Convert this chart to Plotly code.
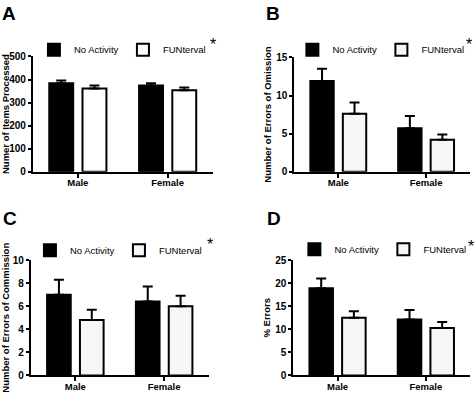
import plotly.graph_objects as go

categories = ["Male", "Female"]
series_names = ["No Activity", "FUNterval"]

items_no = [384, 374]
items_no_err = [12, 10]
items_fun = [361, 353]
items_fun_err = [13, 12]

omis_no = [11.9, 5.7]
omis_no_err = [1.6, 1.6]
omis_fun = [7.6, 4.2]
omis_fun_err = [1.5, 0.7]

comm_no = [7.0, 6.4]
comm_no_err = [1.3, 1.3]
comm_fun = [4.8, 6.0]
comm_fun_err = [0.9, 0.9]

pct_no = [18.9, 12.1]
pct_no_err = [2.1, 2.1]
pct_fun = [12.5, 10.3]
pct_fun_err = [1.4, 1.3]

y_titles = ["Numer of Items Processed", "Number of Errors of Omission",
            "Number of Errors of Commission", "% Errors"]
y_max = [500, 15, 10, 25]
y_dtick = [100, 5, 2, 5]
panel_letters = ["A", "B", "C", "D"]

panels = [
    (items_no, items_no_err, items_fun, items_fun_err),
    (omis_no, omis_no_err, omis_fun, omis_fun_err),
    (comm_no, comm_no_err, comm_fun, comm_fun_err),
    (pct_no, pct_no_err, pct_fun, pct_fun_err),
]

W, H = 474, 395
FONT = "Liberation Sans, Arial, sans-serif"

# pixel geometry: (x_left, x_right, y_top, y_bottom)
geom = [(32, 212, 52, 171), (294, 470, 53, 171), (30, 208, 262, 381), (293, 470, 262, 381)]
legend_pos = [(52, 45), (311, 45), (48, 252), (313, 251)]
star_pos = [(212, 40), (469, 40), (209, 246), (471, 248)]
letter_pos = [(8, 13), (273, 13), (9, 219), (274, 219)]
letter_shift = [5, 5, 0, 0]
white_fill = ["#ffffff", "#f6f6f6", "#f6f6f6", "#f6f6f6"]

fig = go.Figure()
layout = dict(
    width=W, height=H, margin=dict(l=0, r=0, t=0, b=0),
    paper_bgcolor="white", plot_bgcolor="white",
    barmode="group", bargap=0.26, bargroupgap=0.28,
    font=dict(family=FONT, color="black"),
)
annotations = []

for i, (no, no_err, fun, fun_err) in enumerate(panels):
    n = "" if i == 0 else str(i + 1)
    leg = "legend" if i == 0 else "legend" + str(i + 1)
    x0, x1, yt, yb = geom[i]
    for name, vals, errs, fill in [(series_names[0], no, no_err, "#000000"),
                                   (series_names[1], fun, fun_err, white_fill[i])]:
        fig.add_trace(go.Bar(
            x=categories, y=vals, name=name, xaxis="x" + n, yaxis="y" + n,
            legend=leg,
            marker=dict(color=fill, line=dict(color="black", width=2)),
            error_y=dict(type="data", symmetric=False, array=errs,
                         arrayminus=[0] * len(errs), color="black",
                         thickness=2, width=5),
        ))
    layout["xaxis" + n] = dict(
        domain=[x0 / W, x1 / W], anchor="y" + n, range=[-0.5, 1.5],
        showline=True, linecolor="black", linewidth=2,
        ticks="outside", ticklen=4, tickwidth=2, tickcolor="black",
        ticklabelstandoff=-3,
        tickfont=dict(size=9.5, weight="bold", family=FONT),
        showgrid=False, fixedrange=True,
    )
    layout["yaxis" + n] = dict(
        domain=[1 - yb / H, 1 - yt / H], anchor="x" + n, range=[0, y_max[i]],
        dtick=y_dtick[i], tick0=0,
        showline=True, linecolor="black", linewidth=2,
        ticks="outside", ticklen=3, tickwidth=2, tickcolor="black",
        tickfont=dict(size=10, weight="bold", family=FONT),
        showgrid=False, zeroline=False, fixedrange=True,
        title=dict(text=y_titles[i], standoff=3,
                   font=dict(size=9.5, weight="bold", family=FONT)),
    )
    lx, ly = legend_pos[i]
    layout[leg] = dict(
        orientation="h", x=(lx - 19) / W, y=1 - ly / H,
        xanchor="left", yanchor="middle", entrywidth=44,
        bgcolor="rgba(0,0,0,0)", font=dict(size=9.5, family=FONT),
        itemclick=False, itemdoubleclick=False,
    )
    sx, sy = star_pos[i]
    annotations.append(dict(text="*", x=sx / W, y=1 - sy / H, xref="paper", yref="paper",
                            showarrow=False, font=dict(size=16, family=FONT),
                            xanchor="center", yanchor="middle"))
    px, py = letter_pos[i]
    annotations.append(dict(text=panel_letters[i], x=px / W, y=1 - py / H,
                            xref="paper", yref="paper", showarrow=False,
                            yshift=letter_shift[i],
                            font=dict(size=19, weight="bold", family=FONT),
                            xanchor="center", yanchor="middle"))

layout["annotations"] = annotations
fig.update_layout(**layout)
fig.write_html("out.html", config={"displayModeBar": False},
               post_script="document.body.style.margin='0px';document.body.style.padding='0px';")
